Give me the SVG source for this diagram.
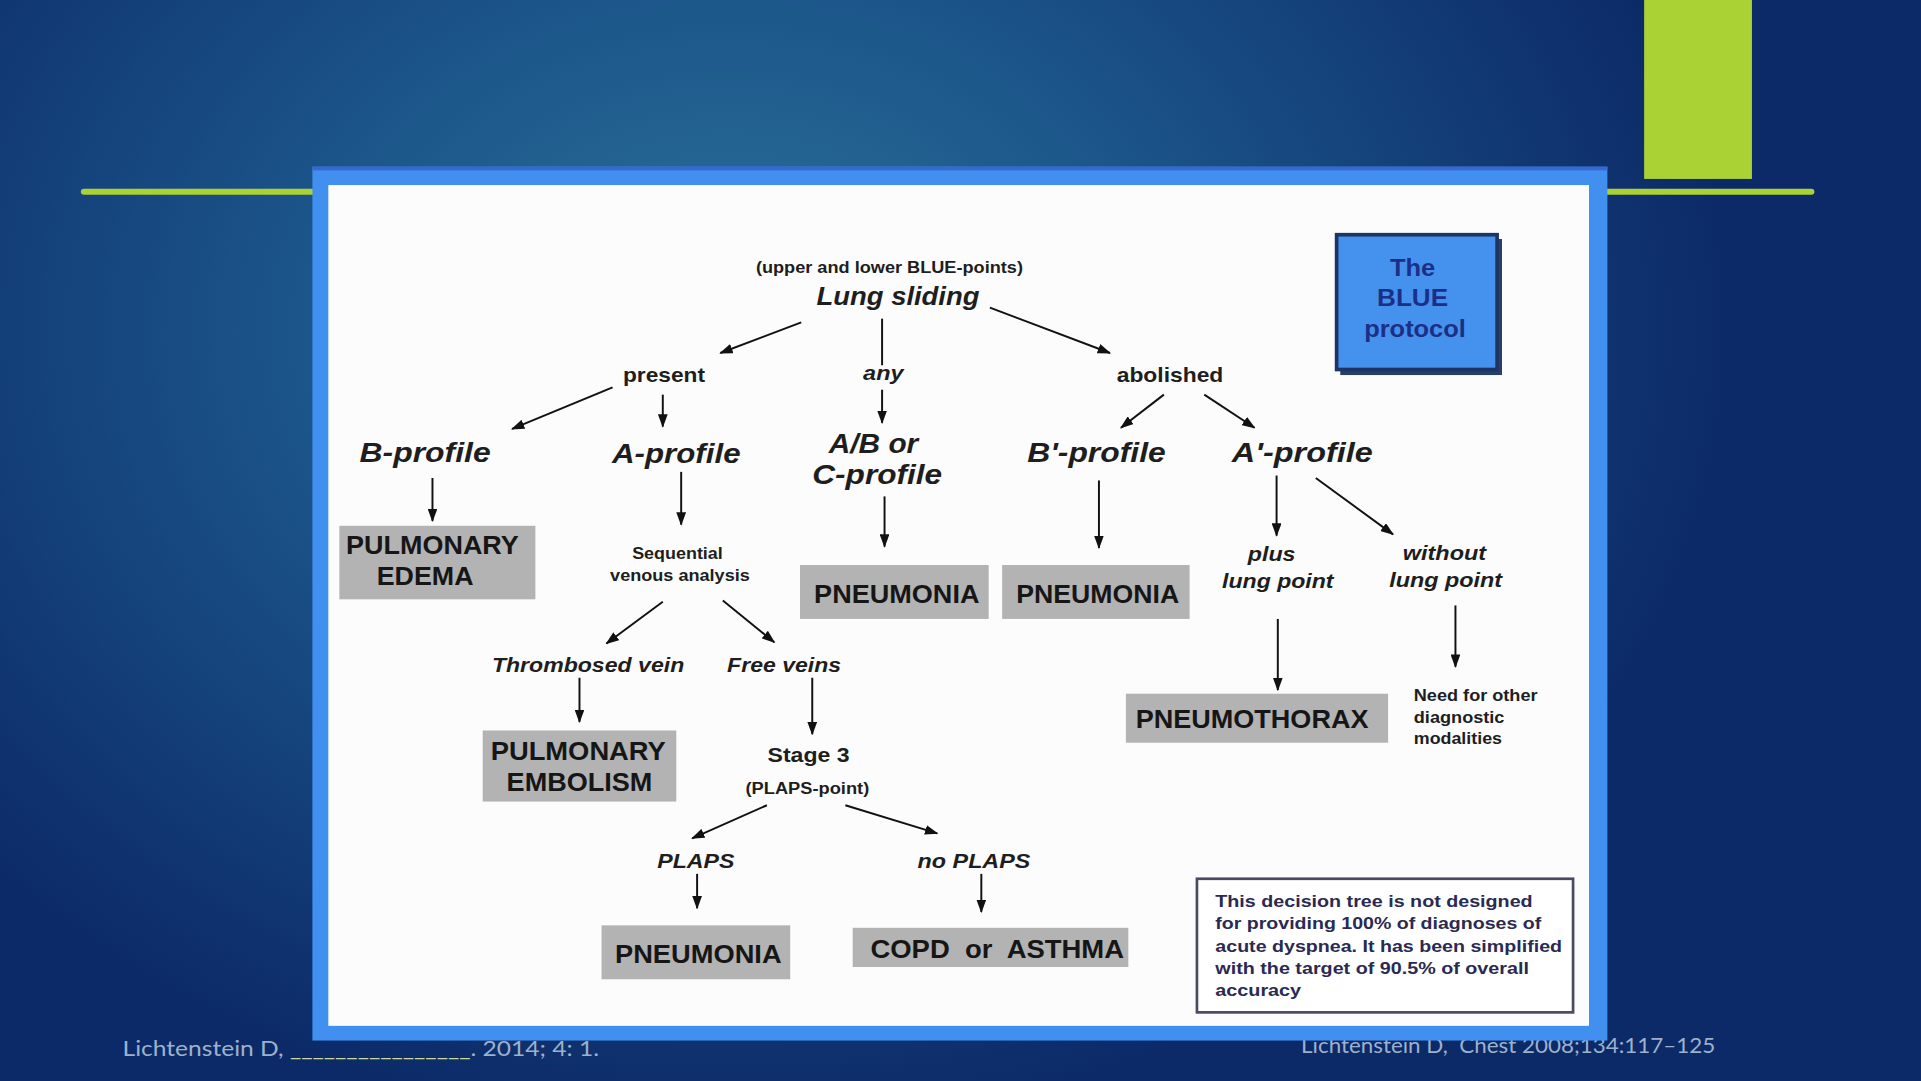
<svg xmlns="http://www.w3.org/2000/svg" width="1921" height="1081" viewBox="0 0 1921 1081">
<defs>
<radialGradient id="bg" gradientUnits="userSpaceOnUse" cx="730" cy="330" r="1000" gradientTransform="translate(730 330) scale(1 0.8) translate(-730 -330)">
<stop offset="0" stop-color="#2b7399"/>
<stop offset="0.45" stop-color="#1b5489"/>
<stop offset="1" stop-color="#0c2a68"/>
</radialGradient>
<marker id="ah" markerUnits="userSpaceOnUse" markerWidth="11" markerHeight="8" refX="10" refY="4" orient="auto">
<path d="M0,0 L11,4 L0,8 z" fill="#111"/>
</marker>
<style>
.t{font-family:"Liberation Sans",Arial,sans-serif;font-weight:bold;fill:#1e1e1e;text-anchor:middle}
.i{font-style:italic}
.l{text-anchor:start}
.box{fill:#b3b3b3}
.bt{font-family:"Liberation Sans",Arial,sans-serif;font-weight:bold;fill:#161616;text-anchor:middle;font-size:21px}
.c line{stroke:#111;stroke-width:1.6;marker-end:url(#ah)}
.c line.n{marker-end:none}
.ft{font-family:Lato,"DejaVu Sans",sans-serif;font-size:18px;fill:#9db1cc}
.pre{white-space:pre}
</style>
</defs>
<rect x="0" y="0" width="1921" height="1081" fill="url(#bg)"/>
<g transform="scale(1.22513 1.22562)">
<!-- decorations -->
<rect x="1342" y="0" width="88" height="146" fill="#abd234"/>
<rect x="66" y="154" width="1415" height="5" rx="2.5" fill="#abd234"/>
<!-- footer -->
<text class="ft" x="100" y="862" textLength="389" lengthAdjust="spacingAndGlyphs">Lichtenstein D, <tspan fill="#c9d7a0">________________</tspan>. 2014; 4: 1.</text>
<text class="ft pre" x="1062" y="859" xml:space="preserve" textLength="338" lengthAdjust="spacingAndGlyphs">Lichtenstein D,  Chest 2008;134:117–125</text>
<!-- frame -->
<rect x="255" y="136" width="1057" height="713" fill="#4190f0"/>
<rect x="255" y="136" width="1057" height="3" fill="#3a66d4"/>
<rect x="268" y="151" width="1029" height="686" fill="#fcfcfc"/>

<g id="connectors" class="c">
<line x1="654" y1="263" x2="588" y2="288"/>
<line class="n" x1="720" y1="260" x2="720" y2="298"/>
<line x1="720" y1="318" x2="720" y2="345"/>
<line x1="808" y1="251" x2="906" y2="288"/>
<line x1="500" y1="316" x2="418" y2="350"/>
<line x1="541" y1="322" x2="541" y2="348"/>
<line x1="950" y1="322" x2="915" y2="349"/>
<line x1="983" y1="322" x2="1024" y2="349"/>
<line x1="353" y1="390" x2="353" y2="425"/>
<line x1="556" y1="385" x2="556" y2="428"/>
<line x1="722" y1="405" x2="722" y2="446"/>
<line x1="897" y1="392" x2="897" y2="447"/>
<line x1="1042" y1="388" x2="1042" y2="437"/>
<line x1="1074" y1="390" x2="1137" y2="436"/>
<line x1="1043" y1="505" x2="1043" y2="563"/>
<line x1="1188" y1="494" x2="1188" y2="544"/>
<line x1="541" y1="491" x2="495" y2="525"/>
<line x1="590" y1="490" x2="632" y2="524"/>
<line x1="473" y1="553" x2="473" y2="589"/>
<line x1="663" y1="553" x2="663" y2="599"/>
<line x1="626" y1="657" x2="565" y2="684"/>
<line x1="690" y1="657" x2="765" y2="680"/>
<line x1="569" y1="713" x2="569" y2="741"/>
<line x1="801" y1="713" x2="801" y2="744"/>
</g>

<g id="lung-sliding">
<text class="t" x="726" y="223" font-size="13" textLength="218" lengthAdjust="spacingAndGlyphs">(upper and lower BLUE-points)</text>
<text class="t i" x="733" y="249" font-size="21" textLength="133" lengthAdjust="spacingAndGlyphs">Lung sliding</text>
</g>
<g id="present"><text class="t" x="542" y="312" font-size="17" textLength="67" lengthAdjust="spacingAndGlyphs">present</text></g>
<g id="any"><text class="t i" x="721" y="310" font-size="17" textLength="33" lengthAdjust="spacingAndGlyphs">any</text></g>
<g id="abolished"><text class="t" x="955" y="312" font-size="17" textLength="87" lengthAdjust="spacingAndGlyphs">abolished</text></g>

<g id="b-profile"><text class="t i" x="347" y="377" font-size="22" textLength="107" lengthAdjust="spacingAndGlyphs">B-profile</text></g>
<g id="a-profile"><text class="t i" x="552" y="378" font-size="22" textLength="105" lengthAdjust="spacingAndGlyphs">A-profile</text></g>
<g id="abc-profile">
<text class="t i" x="713" y="370" font-size="22" textLength="73" lengthAdjust="spacingAndGlyphs">A/B or</text>
<text class="t i" x="716" y="395" font-size="22" textLength="106" lengthAdjust="spacingAndGlyphs">C-profile</text>
</g>
<g id="b-prime-profile"><text class="t i" x="895" y="377" font-size="22" textLength="113" lengthAdjust="spacingAndGlyphs">B'-profile</text></g>
<g id="a-prime-profile"><text class="t i" x="1063" y="377" font-size="22" textLength="115" lengthAdjust="spacingAndGlyphs">A'-profile</text></g>

<g id="pulmonary-edema">
<rect class="box" x="277" y="429" width="160" height="60"/>
<text class="bt" x="353" y="452" textLength="141" lengthAdjust="spacingAndGlyphs">PULMONARY</text>
<text class="bt" x="347" y="477" textLength="79" lengthAdjust="spacingAndGlyphs">EDEMA</text>
</g>
<g id="sequential">
<text class="t" x="553" y="456" font-size="13" textLength="74" lengthAdjust="spacingAndGlyphs">Sequential</text>
<text class="t" x="555" y="474" font-size="13" textLength="114" lengthAdjust="spacingAndGlyphs">venous analysis</text>
</g>
<g id="pneumonia-1">
<rect class="box" x="653" y="461" width="154" height="44"/>
<text class="bt" x="732" y="492" textLength="135" lengthAdjust="spacingAndGlyphs">PNEUMONIA</text>
</g>
<g id="pneumonia-2">
<rect class="box" x="818" y="461" width="153" height="44"/>
<text class="bt" x="896" y="492" textLength="133" lengthAdjust="spacingAndGlyphs">PNEUMONIA</text>
</g>
<g id="plus-lung-point">
<text class="t i" x="1038" y="458" font-size="17" textLength="39" lengthAdjust="spacingAndGlyphs">plus</text>
<text class="t i" x="1043" y="480" font-size="17" textLength="91" lengthAdjust="spacingAndGlyphs">lung point</text>
</g>
<g id="without-lung-point">
<text class="t i" x="1179" y="457" font-size="17" textLength="68" lengthAdjust="spacingAndGlyphs">without</text>
<text class="t i" x="1180" y="479" font-size="17" textLength="92" lengthAdjust="spacingAndGlyphs">lung point</text>
</g>
<g id="pneumothorax">
<rect class="box" x="919" y="566" width="214" height="40"/>
<text class="bt" x="1022" y="594" textLength="190" lengthAdjust="spacingAndGlyphs">PNEUMOTHORAX</text>
</g>
<g id="other-modalities">
<text class="t l" x="1154" y="572" font-size="13" textLength="101" lengthAdjust="spacingAndGlyphs">Need for other</text>
<text class="t l" x="1154" y="590" font-size="13" textLength="74" lengthAdjust="spacingAndGlyphs">diagnostic</text>
<text class="t l" x="1154" y="607" font-size="13" textLength="72" lengthAdjust="spacingAndGlyphs">modalities</text>
</g>
<g id="thrombosed-vein"><text class="t i" x="480" y="548" font-size="17" textLength="157" lengthAdjust="spacingAndGlyphs">Thrombosed vein</text></g>
<g id="free-veins"><text class="t i" x="640" y="548" font-size="17" textLength="93" lengthAdjust="spacingAndGlyphs">Free veins</text></g>
<g id="pulmonary-embolism">
<rect class="box" x="394" y="596" width="158" height="58"/>
<text class="bt" x="472" y="620" textLength="143" lengthAdjust="spacingAndGlyphs">PULMONARY</text>
<text class="bt" x="473" y="645" textLength="119" lengthAdjust="spacingAndGlyphs">EMBOLISM</text>
</g>
<g id="stage-3">
<text class="t" x="660" y="622" font-size="17" textLength="67" lengthAdjust="spacingAndGlyphs">Stage 3</text>
<text class="t" x="659" y="648" font-size="13" textLength="101" lengthAdjust="spacingAndGlyphs">(PLAPS-point)</text>
</g>
<g id="plaps"><text class="t i" x="568" y="708" font-size="17" textLength="63" lengthAdjust="spacingAndGlyphs">PLAPS</text></g>
<g id="no-plaps"><text class="t i" x="795" y="708" font-size="17" textLength="92" lengthAdjust="spacingAndGlyphs">no PLAPS</text></g>
<g id="pneumonia-3">
<rect class="box" x="491" y="755" width="154" height="44"/>
<text class="bt" x="570" y="786" textLength="136" lengthAdjust="spacingAndGlyphs">PNEUMONIA</text>
</g>
<g id="copd-asthma">
<rect class="box" x="696" y="757" width="225" height="32"/>
<text class="bt pre" x="814" y="782" xml:space="preserve" textLength="207" lengthAdjust="spacingAndGlyphs">COPD  or  ASTHMA</text>
</g>
<g id="note">
<rect x="977" y="717" width="307" height="109" fill="#ffffff" stroke="#4a4a62" stroke-width="2.2"/>
<g font-family="'Liberation Sans',Arial,sans-serif" font-weight="bold" font-size="13.5" fill="#2a2a52">
<text x="992" y="740" textLength="259" lengthAdjust="spacingAndGlyphs">This decision tree is not designed</text>
<text x="992" y="758" textLength="266" lengthAdjust="spacingAndGlyphs">for providing 100% of diagnoses of</text>
<text x="992" y="777" textLength="283" lengthAdjust="spacingAndGlyphs">acute dyspnea. It has been simplified</text>
<text x="992" y="795" textLength="256" lengthAdjust="spacingAndGlyphs">with the target of 90.5% of overall</text>
<text x="992" y="813" textLength="70" lengthAdjust="spacingAndGlyphs">accuracy</text>
</g>
</g>
<g id="blue-protocol">
<rect x="1094" y="195" width="132" height="111" fill="#2a3f66"/>
<rect x="1091" y="191.5" width="131" height="110" fill="#4592ee" stroke="#1d3564" stroke-width="3"/>
<g font-family="'Liberation Sans',Arial,sans-serif" font-weight="bold" font-size="19" fill="#1c2f86" text-anchor="middle">
<text x="1153" y="225" textLength="37" lengthAdjust="spacingAndGlyphs">The</text>
<text x="1153" y="250" textLength="58" lengthAdjust="spacingAndGlyphs">BLUE</text>
<text x="1155" y="275" textLength="83" lengthAdjust="spacingAndGlyphs">protocol</text>
</g>
</g>
</g>
</svg>
